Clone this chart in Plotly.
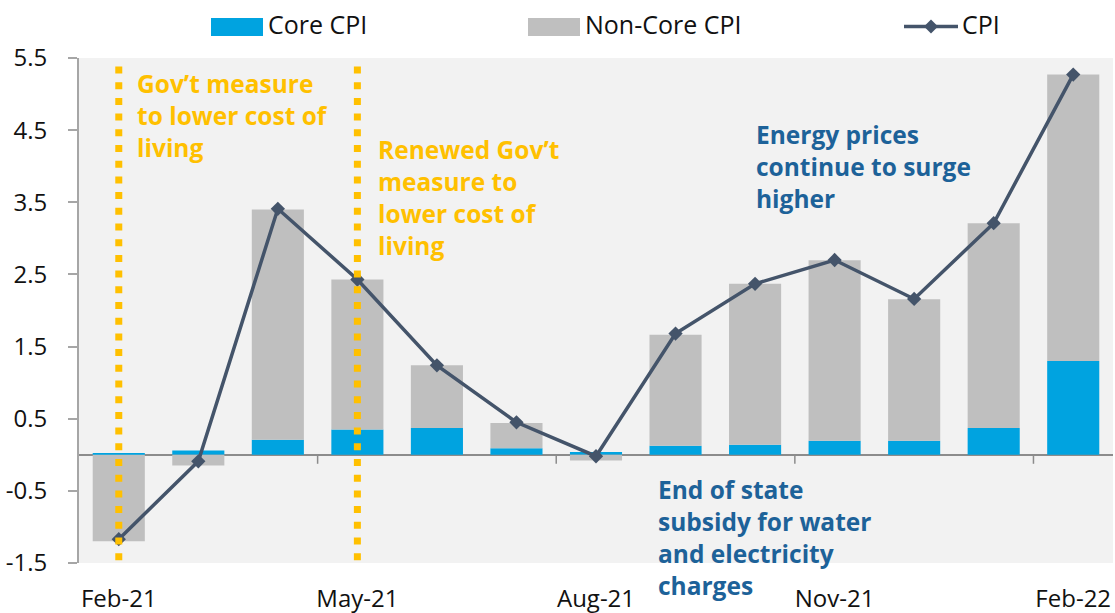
import plotly.graph_objects as go

# ---------------- data ----------------
months = ["Feb-21", "Mar-21", "Apr-21", "May-21", "Jun-21", "Jul-21", "Aug-21",
          "Sep-21", "Oct-21", "Nov-21", "Dec-21", "Jan-22", "Feb-22"]
core_cpi = [0.02, 0.06, 0.21, 0.35, 0.37, 0.09, 0.04, 0.125, 0.14, 0.195, 0.195, 0.37, 1.30]
noncore_cpi = [-1.20, -0.15, 3.19, 2.08, 0.87, 0.35, -0.08, 1.54, 2.23, 2.50, 1.96, 2.84, 3.97]
cpi = [-1.17, -0.09, 3.41, 2.43, 1.24, 0.45, -0.02, 1.68, 2.37, 2.70, 2.16, 3.21, 5.27]

series_names = ["Core CPI", "Non-Core CPI", "CPI"]
xtick_labels = ["Feb-21", "May-21", "Aug-21", "Nov-21", "Feb-22"]
ytick_vals = [-1.5, -0.5, 0.5, 1.5, 2.5, 3.5, 4.5, 5.5]
ytick_text = ["-1.5", "-0.5", "0.5", "1.5", "2.5", "3.5", "4.5", "5.5"]
event_months = ["Feb-21", "May-21"]

# ---------------- style ----------------
BLUE = "#00A3E0"
GREY = "#BFBFBF"
LINE = "#44546A"
ORANGE = "#FFC000"
TXTBLUE = "#1D6299"
FONT = "Open Sans"

W, H = 1115, 613
L, R, T, B = 79, 2, 58, 50
PW, PH = W - L - R, H - T - B


def px(x):
    return (x - L) / PW


def py(y):
    return (H - B - y) / PH


fig = go.Figure()
fig.add_trace(go.Bar(x=months, y=core_cpi, name=series_names[0], marker_color=BLUE,
                     marker_line_width=0, showlegend=False))
fig.add_trace(go.Bar(x=months, y=noncore_cpi, name=series_names[1], marker_color=GREY,
                     marker_line_width=0, showlegend=False))
fig.add_trace(go.Scatter(x=months, y=cpi, name=series_names[2], mode="lines+markers",
                         line=dict(color=LINE, width=3.5),
                         marker=dict(symbol="diamond", size=11, color=LINE),
                         showlegend=False))

shapes = []
# event lines (dotted, orange)
for m in event_months:
    i = months.index(m)
    shapes.append(dict(type="line", xref="x", yref="y", x0=i, x1=i, y0=5.6, y1=-1.64,
                       line=dict(color=ORANGE, width=7, dash="7px,8.7px"), layer="above"))
# x tick marks at category boundaries on the zero line
for lab in xtick_labels[1:]:
    i = months.index(lab) - 0.5
    shapes.append(dict(type="line", xref="x", yref="y", ysizemode="pixel", yanchor=0,
                       x0=i, x1=i, y0=0, y1=-9,
                       line=dict(color="#8C8C8C", width=1.5), layer="above"))

# manual legend
legend_items = [(211, BLUE), (528, GREY)]
for (x0, col), name in zip(legend_items, series_names[:2]):
    shapes.append(dict(type="rect", xref="paper", yref="paper",
                       x0=px(x0), x1=px(x0 + 52), y0=py(36), y1=py(18),
                       fillcolor=col, line_width=0))
shapes.append(dict(type="line", xref="paper", yref="paper", x0=px(904), x1=px(958),
                   y0=py(26.5), y1=py(26.5), line=dict(color=LINE, width=3.5)))
cx, cy, d = 931, 26.5, 7
shapes.append(dict(type="path", xref="paper", yref="paper",
                   path=f"M {px(cx - d)} {py(cy)} L {px(cx)} {py(cy - d)} L {px(cx + d)} {py(cy)} L {px(cx)} {py(cy + d)} Z",
                   fillcolor=LINE, line_width=0))

annotations = []
for xpos, name in zip([266, 583, 960], series_names):
    annotations.append(dict(text=name, xref="paper", yref="paper", x=px(xpos), y=py(24),
                            xanchor="left", yanchor="middle", showarrow=False,
                            font=dict(family=FONT, size=25, color="#111111")))

notes = [
    ("Gov’t measure<br>to lower cost of<br>living", 0.2, 4.70, ORANGE),
    ("Renewed Gov’t<br>measure to<br>lower cost of<br>living", 3.23, 3.57, ORANGE),
    ("Energy prices<br>continue to surge<br>higher", 7.99, 4.0, TXTBLUE),
    ("End of state<br>subsidy for water<br>and electricity<br>charges", 6.75, -1.15, TXTBLUE),
]
for text, x, y, col in notes:
    annotations.append(dict(text=text, xref="x", yref="y", x=x, y=y, xanchor="left",
                            yanchor="middle", align="left", showarrow=False,
                            font=dict(family=FONT, size=24.5, color=col, weight="bold")))

fig.update_layout(
    width=W, height=H,
    margin=dict(l=L, r=R, t=T, b=B, pad=0, autoexpand=False),
    paper_bgcolor="white", plot_bgcolor="#F2F2F2",
    barmode="relative", bargap=0.345,
    font=dict(family=FONT, size=24, color="#111111"),
    shapes=shapes, annotations=annotations,
    xaxis=dict(type="category", categoryorder="array", categoryarray=months,
               range=[-0.5, len(months) - 0.5], tickmode="array", tickvals=xtick_labels,
               ticktext=xtick_labels, ticks="", showgrid=False, showline=False,
               zeroline=False, ticklabelstandoff=19, tickfont=dict(size=24),
               automargin=False),
    yaxis=dict(range=[-1.5, 5.5], tickmode="array", tickvals=ytick_vals, ticktext=ytick_text,
               ticks="outside", ticklen=9, tickwidth=1.5, tickcolor="#A6A6A6",
               showline=True, linecolor="#A6A6A6", linewidth=2, showgrid=False,
               zeroline=True, zerolinecolor="#8C8C8C", zerolinewidth=1.5,
               ticklabelstandoff=16, tickfont=dict(size=24), automargin=False),
)

fig.write_html("out.html", config={"displayModeBar": False},
               post_script="document.body.style.margin='0';document.body.style.overflow='hidden';")
